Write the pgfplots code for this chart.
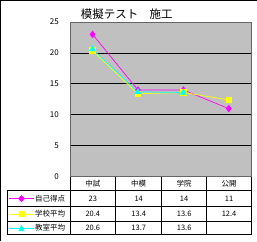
\documentclass[border=0pt]{standalone}
\usepackage{pgfplots}
\pgfplotsset{compat=1.18}
\usepackage{fontspec}
\setmainfont{Noto Sans CJK JP}
\definecolor{plotgray}{RGB}{192,192,192}
\definecolor{mag}{RGB}{255,0,255}
\definecolor{yel}{RGB}{255,255,0}
\definecolor{cya}{RGB}{0,255,255}
\begin{document}
\begin{tikzpicture}[x=1pt,y=-1pt]
\path (0,0) rectangle (257,241);
\draw[line width=1pt] (0.5,241) -- (0.5,0.5) -- (257,0.5);
\begin{axis}[
  at={(70pt,-177pt)}, anchor=south west,
  scale only axis, width=182pt, height=155pt,
  xmin=-0.5, xmax=3.5, ymin=0, ymax=25,
  ytick={0,5,...,25}, xtick=\empty,
  major tick length=0pt,
  ymajorgrids, grid style={black, line width=0.8pt},
  axis background/.style={fill=plotgray},
  axis line style={black!60, line width=0.6pt},
  /pgf/number format/assume math mode=true,
  yticklabel style={font=\fontsize{8}{9}\selectfont, xshift=-7.5pt},
  clip=false,
]
\addplot[mag, line width=0.7pt, mark=diamond*, mark size=3.2pt] coordinates {(0,23) (1,14) (2,14) (3,11)};
\addplot[yel, line width=0.7pt, mark=square*, mark size=2.8pt] coordinates {(0,20.4) (1,13.4) (2,13.6) (3,12.4)};
\addplot[cya, line width=0.7pt, mark=triangle*, mark size=3.3pt] coordinates {(0,20.6) (1,13.7) (2,13.6)};
\end{axis}
\node[font=\fontsize{11.5}{12}\selectfont] at (127,14) {模擬テスト　施工};
% table
\begin{scope}[line width=0.6pt]
\draw (70,177) -- (70,235);
\foreach \x in {116,162,207,252} \draw (\x,177) -- (\x,235);
\draw (7,191) -- (252,191);
\draw (7,207) -- (252,207);
\draw (7,222) -- (252,222);
\draw (7,235) -- (252,235);
\draw (7,191) -- (7,235);
\end{scope}
\begin{scope}[font=\fontsize{7.5}{8}\selectfont]
\node at (93,184) {中試};
\node at (139,184) {中模};
\node at (184.5,184) {学院};
\node at (229.5,184) {公開};
\node at (93,199) {23};
\node at (139,199) {14};
\node at (184.5,199) {14};
\node at (229.5,199) {11};
\node at (93,214.5) {20.4};
\node at (139,214.5) {13.4};
\node at (184.5,214.5) {13.6};
\node at (229.5,214.5) {12.4};
\node at (93,228.5) {20.6};
\node at (139,228.5) {13.7};
\node at (184.5,228.5) {13.6};
\node[anchor=west, inner sep=1pt] at (34,199) {自己得点};
\node[anchor=west, inner sep=1pt] at (34,214.5) {学校平均};
\node[anchor=west, inner sep=1pt] at (34,228.5) {教室平均};
\end{scope}
\draw[mag, line width=0.7pt] (9,199) -- (34,199);
\fill[mag] (21.5,195.5) -- (25,199) -- (21.5,202.5) -- (18,199) -- cycle;
\draw[yel, line width=0.7pt] (9,214.5) -- (34,214.5);
\fill[yel] (19,211.5) rectangle (25,217.5);
\draw[cya, line width=0.7pt] (9,228.5) -- (34,228.5);
\fill[cya] (18.5,231.5) -- (24.5,231.5) -- (21.5,225) -- cycle;
\end{tikzpicture}
\end{document}
